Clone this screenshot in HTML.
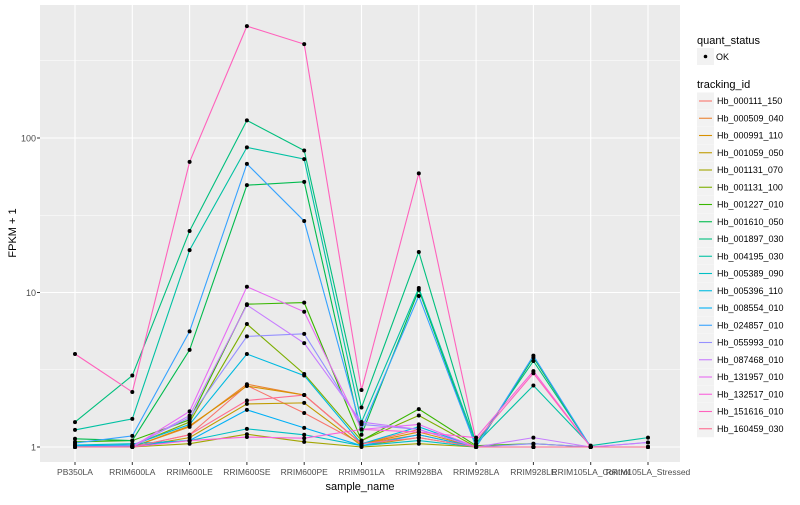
<!DOCTYPE html>
<html><head><meta charset="utf-8"><style>
body{margin:0;background:#fff;font-family:"Liberation Sans",sans-serif}
svg text{font-family:"Liberation Sans",sans-serif}
</style></head><body>
<svg id="chart" width="800" height="500">
<rect x="40" y="5" width="640" height="457" fill="#ebebeb"/>
<g id="grid"></g><g id="lines"></g><g id="axes"></g><g id="legend"></g>
<text x="360" y="490" font-size="11" text-anchor="middle">sample_name</text>
<text x="0" y="0" font-size="11" text-anchor="middle" transform="translate(16,233) rotate(-90)">FPKM + 1</text>
</svg>
<script>
const categories=["PB350LA","RRIM600LA","RRIM600LE","RRIM600SE","RRIM600PE","RRIM901LA","RRIM928BA","RRIM928LA","RRIM928LE","RRIM105LA_Control","RRIM105LA_Stressed"];
const seriesNames=["Hb_000111_150","Hb_000509_040","Hb_000991_110","Hb_001059_050","Hb_001131_070","Hb_001131_100","Hb_001227_010","Hb_001610_050","Hb_001897_030","Hb_004195_030","Hb_005389_090","Hb_005396_110","Hb_008554_010","Hb_024857_010","Hb_055993_010","Hb_087468_010","Hb_131957_010","Hb_132517_010","Hb_151616_010","Hb_160459_030"];
const colors=["#F8766D","#EA8331","#D89000","#C09B00","#A3A500","#7CAE00","#39B600","#00BB4E","#00BF7D","#00C1A3","#00BFC4","#00BAE0","#00B0F6","#35A2FF","#9590FF","#C77CFF","#E76BF3","#FA62DB","#FF62BC","#FF6C91"];
const values=[
[1.0,1.0,1.2,2.5,1.66,1.05,1.3,1.0,1.0,1.0,1.0],
[1.0,1.0,1.35,2.55,2.17,1.05,1.2,1.0,1.0,1.0,1.0],
[1.0,1.0,1.37,2.48,2.17,1.05,1.25,1.0,1.0,1.0,1.0],
[1.0,1.0,1.15,1.9,1.93,1.02,1.15,1.0,1.0,1.0,1.0],
[1.0,1.0,1.05,1.21,1.08,1.0,1.05,1.0,1.0,1.0,1.0],
[1.0,1.02,1.45,6.25,2.97,1.1,1.6,1.0,1.0,1.0,1.0],
[1.08,1.1,1.5,8.4,8.6,1.1,1.76,1.02,1.05,1.0,1.0],
[1.13,1.1,4.25,49.5,52,1.2,10.4,1.0,3.8,1.0,1.0],
[1.45,2.9,25,130,83,1.8,18.3,1.05,3.6,1.0,1.0],
[1.29,1.52,18.8,87,73,1.45,10.7,1.05,2.5,1.02,1.15],
[1.03,1.05,1.1,1.31,1.2,1.02,1.1,1.0,1.0,1.0,1.0],
[1.02,1.03,1.4,4.0,2.9,1.05,1.35,1.0,1.0,1.0,1.0],
[1.02,1.02,1.1,1.74,1.33,1.02,1.2,1.0,1.0,1.0,1.0],
[1.06,1.18,5.6,68,29,1.3,9.5,1.0,3.9,1.0,1.0],
[1.0,1.02,1.55,5.2,5.4,1.4,1.3,1.0,1.05,1.0,1.07],
[1.0,1.0,1.6,8.3,4.7,1.45,1.3,1.0,1.15,1.0,1.07],
[1.0,1.0,1.7,10.9,7.5,1.3,1.4,1.0,1.0,1.0,1.0],
[1.0,1.0,1.1,1.16,1.14,1.3,1.25,1.15,3.1,1.0,1.0],
[4.0,2.27,70,530,405,2.34,59,1.1,3.0,1.0,1.0],
[1.0,1.0,1.2,2.0,2.17,1.05,1.15,1.0,1.0,1.0,1.0]
];
const yTicks=[1,10,100];
const yMinor=[Math.sqrt(10),Math.sqrt(1000),Math.sqrt(100000)];
const NS="http://www.w3.org/2000/svg";
function xS(i){return 75+i*57.3;}
function yS(v){return 447-154.5*Math.log10(v);}
function mk(tag,attrs,parent){const e=document.createElementNS(NS,tag);for(const k in attrs)e.setAttribute(k,attrs[k]);parent.appendChild(e);return e;}
const grid=document.getElementById('grid'),lines=document.getElementById('lines'),axes=document.getElementById('axes'),leg=document.getElementById('legend');
yMinor.forEach(v=>{const l=mk('line',{x1:40,x2:680,y1:yS(v),y2:yS(v),stroke:'#fff','stroke-width':0.5},grid);

});
yTicks.forEach(v=>{const l=mk('line',{x1:40,x2:680,y1:yS(v),y2:yS(v),stroke:'#fff','stroke-width':1.1},grid);


const t=mk('text',{x:36,y:yS(v)+3.5,'font-size':9,fill:'#4d4d4d','text-anchor':'end'},axes);t.textContent=v;


const tk=mk('line',{x1:37,x2:40,y1:yS(v),y2:yS(v),stroke:'#333'},axes);

});
categories.forEach((c,i)=>{const l=mk('line',{x1:xS(i),x2:xS(i),y1:5,y2:462,stroke:'#fff','stroke-width':1.1},grid);


const tk=mk('line',{x1:xS(i),x2:xS(i),y1:462,y2:465,stroke:'#333'},axes);


const t=mk('text',{x:xS(i),y:475,'font-size':8.5,fill:'#4d4d4d','text-anchor':'middle'},axes);t.textContent=c;

});
values.forEach((row,s)=>{const p=mk('polyline',{points:row.map((v,i)=>xS(i)+','+yS(v)).join(' '),fill:'none',stroke:colors[s],'stroke-width':1.1},lines);

});
values.forEach((row,s)=>{row.forEach((v,i)=>{const c=mk('circle',{cx:xS(i),cy:yS(v),r:2,fill:'#000'},lines);

});});
const t1=mk('text',{x:697,y:44,'font-size':11},leg);t1.textContent='quant_status';


const kb=mk('rect',{x:697,y:48,width:17,height:17,fill:'#f2f2f2'},leg);


const kp=mk('circle',{cx:705.5,cy:56.5,r:1.8,fill:'#000'},leg);


const ok=mk('text',{x:716,y:60,'font-size':9},leg);ok.textContent='OK';


const t2=mk('text',{x:697,y:88,'font-size':11},leg);t2.textContent='tracking_id';


seriesNames.forEach((n,s)=>{const y=101+s*17.25;
const b=mk('rect',{x:697,y:y-8.5,width:17,height:17,fill:'#f2f2f2'},leg);


const l=mk('line',{x1:699,x2:712,y1:y,y2:y,stroke:colors[s],'stroke-width':1.1},leg);


const t=mk('text',{x:717,y:y+3.2,'font-size':9},leg);t.textContent=n;

});
</script>
</body></html>
